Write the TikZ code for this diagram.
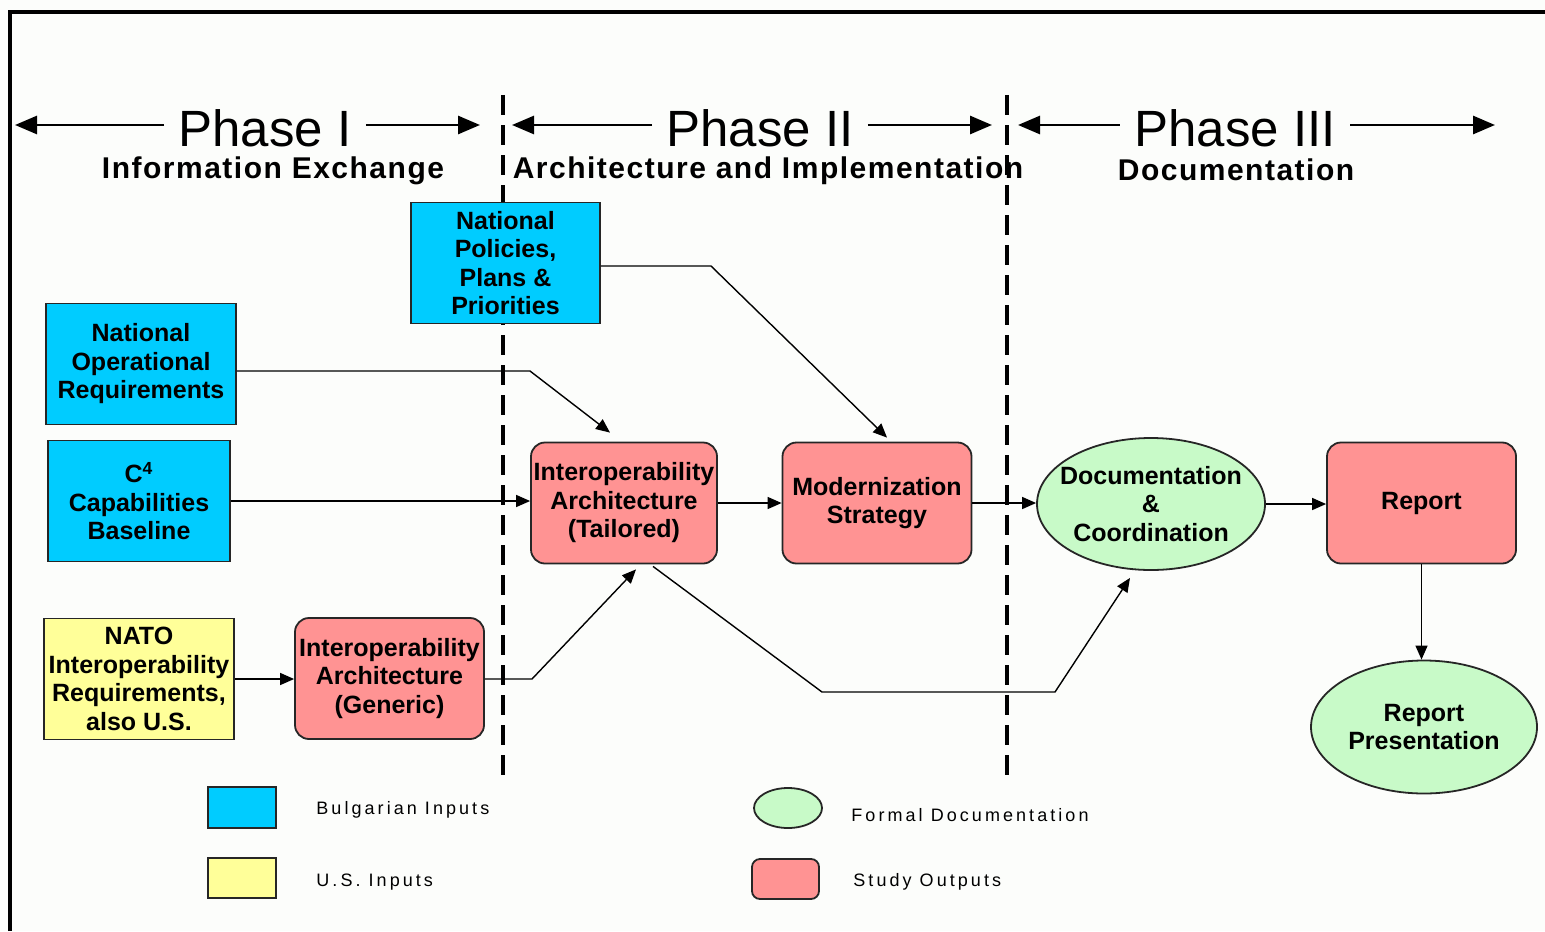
\documentclass[tikz,border=0pt]{standalone}
\usepackage{fontspec}
\setmainfont{Liberation Sans}
\usetikzlibrary{arrows.meta,calc,shapes.geometric}

\definecolor{bgblue}{HTML}{00CCFF}
\definecolor{usyellow}{HTML}{FFFF99}
\definecolor{outpink}{HTML}{FF9393}
\definecolor{docgreen}{HTML}{C8FAC8}
\definecolor{paper}{HTML}{FCFDFB}

\begin{document}
\begin{tikzpicture}[x=0.5pt,y=-0.5pt,
  boxtxt/.style={font=\bfseries\fontsize{12.5}{14.25}\selectfont, align=center, text=black},
  inbox/.style={boxtxt, draw=black!85, line width=0.9pt, rectangle, inner sep=0pt,
                minimum width=94.5pt, minimum height=60.5pt},
  bginput/.style={inbox, fill=bgblue},
  usinput/.style={inbox, fill=usyellow},
  outbox/.style={inbox, fill=outpink, rounded corners=7pt},
  formal/.style={ellipse, draw=black!85, line width=0.9pt, fill=docgreen,
                 inner sep=0pt, minimum width=114pt, minimum height=66pt},
  formaltxt/.style={boxtxt, inner sep=0pt},
  link/.style={line width=0.7pt, -{Triangle[length=7pt,width=6pt]}},
  phasetip/.style={line width=1.4pt, -{Triangle[length=11pt,width=9pt]}},
  phasetitle/.style={font=\fontsize{25.5}{28}\selectfont, anchor=base, inner ysep=0pt, inner xsep=7pt},
  phasesub/.style={font=\bfseries\fontsize{15}{17}\selectfont\addfontfeatures{LetterSpace=5},
                   anchor=base, inner sep=0pt},
  divider/.style={line width=1.6pt, dash pattern=on 10pt off 5pt},
  legtxt/.style={font=\fontsize{9}{11}\selectfont\addfontfeatures{LetterSpace=17}, anchor=west, inner sep=0pt}
]
% page and frame
\fill[paper] (0,0) rectangle (1545,931);
\useasboundingbox (0,0) rectangle (1545,931);
\draw[line width=1.6pt] (10,931) -- (10,12) -- (1545,12);

% phase dividers
\coordinate (d1t) at (503,95);  \coordinate (d1b) at (503,778);
\coordinate (d2t) at (1007,95); \coordinate (d2b) at (1007,778);
\draw[divider] (d1t) -- (d1b);
\draw[divider] (d2t) -- (d2b);

% phase headers
\node[phasetitle] (ph1) at (265,147) {Phase I};
\node[phasetitle] (ph2) at (760,147) {Phase II};
\node[phasetitle] (ph3) at (1235,147) {Phase III};
\coordinate (p1l) at (15,125);   \coordinate (p1r) at (480,125);
\coordinate (p2l) at (512,125);  \coordinate (p2r) at (992,125);
\coordinate (p3l) at (1018,125); \coordinate (p3r) at (1495,125);
\draw[phasetip] (ph1.west |- p1l) -- (p1l);
\draw[phasetip] (ph1.east |- p1r) -- (p1r);
\draw[phasetip] (ph2.west |- p2l) -- (p2l);
\draw[phasetip] (ph2.east |- p2r) -- (p2r);
\draw[phasetip] (ph3.west |- p3l) -- (p3l);
\draw[phasetip] (ph3.east |- p3r) -- (p3r);

\node[phasesub] (sub1) at (273,178) {Information Exchange};
\node[phasesub] (sub2) at (768,178) {Architecture and Implementation};
\node[phasesub] (sub3) at (1236,180) {Documentation};

% inputs
\node[bginput] (pol) at (505.5,263) {National\\Policies,\\Plans \&\\Priorities};
\node[bginput, minimum width=95pt] (opr) at (141,364) {National\\Operational\\Requirements};
\node[bginput, minimum width=91pt] (c4) at (139,501) {C\textsuperscript{4}\\Capabilities\\Baseline};
\node[usinput, minimum width=95pt] (nato) at (139,679) {NATO\\Interoperability\\Requirements,\\also U.S.};

% study outputs
\node[outbox] (gen) at (389.5,678.5) {Interoperability\\Architecture\\(Generic)};
\node[outbox, minimum width=93pt] (tai) at (624,503) {Interoperability\\Architecture\\(Tailored)};
\node[outbox] (mod) at (877,503) {Modernization\\Strategy};
\node[outbox] (rep) at (1421.5,503) {Report};

% formal documentation
\node[formal] (doc) at (1151,504) {};
\node[formaltxt] (doctxt) at (doc.center) {Documentation\\\&\\Coordination};
\node[formal, minimum width=113pt, minimum height=66.5pt] (pres) at (1424,727) {};
\node[formaltxt] (prestxt) at (pres.center) {Report\\Presentation};

% connectors
\coordinate (b1) at (530,371);
\draw[link] (opr.east |- b1) -- (b1) -- ($(tai.north)+(-14,-9)$);
\coordinate (b2) at (711,266);
\draw[link] (pol.east |- b2) -- (b2) -- ($(mod.north)+(10,-4)$);
\draw[link] (c4.east) -- (c4.east -| tai.west);
\draw[link] (nato.east) -- (nato.east -| gen.west);
\coordinate (b3) at (532,679);
\draw[link] (gen.east |- b3) -- (b3) -- ($(tai.south)+(12,5)$);
\draw[link] (tai.east) -- (mod.west);
\coordinate (b4) at (822,692);
\coordinate (b5) at (1055,692);
\draw[link] ($(tai.south)+(29,2)$) -- (b4) -- (b5) -- ($(doc.south)+(-21,7)$);
\draw[link] (mod.east) -- (mod.east -| doc.west);
\draw[link] (doc.east) -- (doc.east -| rep.west);
\draw[link] (rep.south) -- (rep.south |- pres.north);

% legend
\node[inbox, fill=bgblue, minimum width=34pt, minimum height=20.5pt] (lgb) at (242,807.5) {};
\node[inbox, fill=usyellow, minimum width=34pt, minimum height=20pt] (lgy) at (242,878) {};
\node[formal, minimum width=34pt, minimum height=20pt] (lgg) at (788,808) {};
\node[inbox, fill=outpink, rounded corners=4pt, minimum width=33.5pt, minimum height=20pt] (lgp) at (785.5,879) {};
\node[legtxt] (tb) at (316,810) {Bulgarian Inputs};
\node[legtxt] (tu) at (316,882) {U.S. Inputs};
\node[legtxt] (tf) at (851,815) {Formal Documentation};
\node[legtxt] (ts) at (853,882) {Study Outputs};
\end{tikzpicture}
\end{document}
